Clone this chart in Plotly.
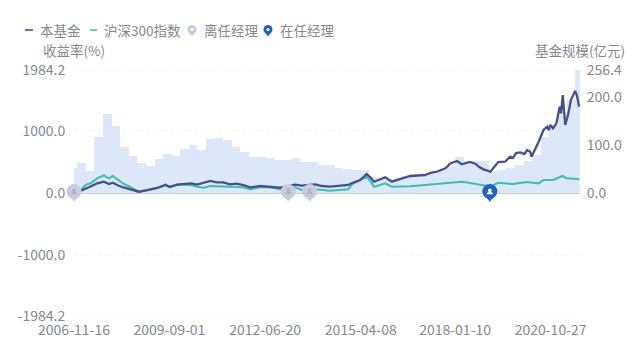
import pandas as pd
import plotly.graph_objects as go

# ---------- data ----------
scale_values = [51.5, 61.9, 45.9, 117.4, 165.3, 139.7, 96.5, 77.1, 63.2, 56.9,
                70.3, 80.7, 77.1, 91.1, 100.0, 89.6, 113.2, 115.3, 109.9, 96.5,
                84.8, 75.7, 74.4, 73.0, 68.2, 68.2, 72.3, 65.2, 64.0, 58.4,
                58.0, 51.5, 51.0, 48.0, 48.0, 33.0, 27.0, 29.0, 31.0, 33.0,
                33.0, 35.0, 40.0, 48.0, 56.0, 75.7, 67.0, 67.0, 67.0, 46.0,
                48.0, 52.0, 58.0, 67.0, 79.0, 117.0, 141.7, 168.9, 194.0, 256.4]
scale_dates = pd.date_range("2006-11-05", periods=len(scale_values), freq="2202h")

line_dates = ["2007-01-28","2007-03-20","2007-05-12","2007-07-22","2007-10-01","2007-11-25",
              "2008-01-05","2008-02-20","2008-05-03","2008-07-12","2008-10-10","2009-01-10",
              "2009-04-25","2009-07-22","2009-09-01","2009-11-25","2010-04-16","2010-06-25",
              "2010-09-05","2010-11-10","2011-01-20","2011-03-30","2011-06-10","2011-08-20",
              "2011-10-30","2012-01-10","2012-04-28","2012-08-12","2012-11-28","2013-05-06",
              "2013-07-16","2013-12-06","2014-02-16","2014-05-16","2014-11-25","2015-01-06",
              "2015-04-01","2015-06-10","2015-07-16","2015-08-28","2015-11-01","2015-12-25","2016-03-05",
              "2016-07-25","2016-09-16","2017-02-25","2017-04-20","2017-06-22","2017-09-28","2017-11-20",
              "2018-02-01","2018-03-22","2018-06-18","2018-08-20","2018-09-25","2018-11-10","2019-01-22","2019-04-16",
              "2019-06-28","2019-08-22","2019-09-20","2019-10-25","2019-12-08","2020-01-20","2020-02-20","2020-03-22","2020-04-06","2020-06-20",
              "2020-08-12","2020-09-20","2020-10-07","2020-10-25","2020-11-22","2020-12-28",
              "2021-02-01","2021-02-16","2021-03-06","2021-04-01","2021-05-05","2021-06-01",
              "2021-07-16","2021-08-03","2021-08-28"]
fund_returns = [37,65,105,156,182,145,166,129,85,60,21,48,81,129,97,134,156,134,166,194,
                173,173,140,150,129,92,113,102,85,134,118,140,113,102,129,161,210,306,258,182,226,
                253,182,250,274,290,323,339,398,476,516,463,500,468,419,382,344,500,505,586,565,645,656,629,694,666,586,823,
                1016,1069,1016,1097,1044,1124,1392,1286,1581,1097,1286,1500,1645,1581,1392]
index_returns = [48,129,156,237,285,237,274,221,145,92,21,48,84,137,102,137,129,102,85,113,
                 113,108,102,97,92,60,92,92,60,92,48,60,48,37,60,145,210,263,198,102,129,
                 156,102,102,108,129,137,145,161,166,177,182,161,145,129,113,105,166,153,145,145,153,161,168,177,169,166,156,
                 210,210,210,210,210,234,258,266,274,247,234,231,229,226,221]

left_ticks = [-1984.2, -1000.0, 0.0, 1000.0, 1984.2]
right_ticks = [0.0, 100.0, 200.0, 256.4]
x_ticks = ["2006-11-16", "2009-09-01", "2012-06-20", "2015-04-08", "2018-01-10", "2020-10-27"]
x_end = "2021-09-06"

former_manager_dates = ["2006-11-16", "2013-02-22", "2013-10-10"]
current_manager_dates = ["2019-01-16"]

names = ["本基金", "沪深300指数", "离任经理", "在任经理"]

# ---------- style ----------
FONT = "Noto Sans CJK SC"
TXT = "#85888f"
BLUE = "#47508f"
GREEN = "#41bdab"
BAR = "#dce7f8"
GREY_PIN = "#c9ccdd"
BLUE_PIN = "#1f62c4"
L, R, T, B = 74, 580, 70, 316
W, H = 640, 356

def px(x):
    return (x - L) / (R - L)

def py(y):
    return (B - y) / (B - T)

fig = go.Figure()
fig.add_trace(go.Bar(x=scale_dates, y=scale_values, width=91.75 * 86400000, marker=dict(color=BAR, line=dict(width=0)),
                     name="基金规模", yaxis="y", showlegend=False))
fig.add_trace(go.Scatter(x=line_dates, y=index_returns, mode="lines", name=names[1], yaxis="y2",
                         line=dict(color=GREEN, width=2.1), showlegend=False))
fig.add_trace(go.Scatter(x=line_dates, y=fund_returns, mode="lines", name=names[0], yaxis="y2",
                         line=dict(color=BLUE, width=2.3), showlegend=False))

def pin(dates, color, glyph, size):
    n = len(dates)
    fig.add_trace(go.Scatter(x=dates, y=[-75] * n, mode="markers", yaxis="y2", cliponaxis=False, showlegend=False,
                             marker=dict(symbol="triangle-down", size=size * 0.55, color=color, line=dict(width=0))))
    fig.add_trace(go.Scatter(x=dates, y=[25] * n, mode="markers", yaxis="y2", cliponaxis=False, showlegend=False,
                             marker=dict(symbol="circle", size=size, color=color, line=dict(width=0))))
    fig.add_trace(go.Scatter(x=dates, y=[45] * n, mode="markers", yaxis="y2", cliponaxis=False, showlegend=False,
                             marker=dict(symbol="circle", size=3.5, color=glyph, line=dict(width=0))))
    fig.add_trace(go.Scatter(x=dates, y=[5] * n, mode="markers", yaxis="y2", cliponaxis=False, showlegend=False,
                             marker=dict(symbol="triangle-up", size=6, color=glyph, line=dict(width=0))))

pin(former_manager_dates, GREY_PIN, "#aeb2c4", 15)
pin(current_manager_dates, BLUE_PIN, "#ffffff", 15)

shapes = []
for v in left_ticks:
    if v != 0:
        shapes.append(dict(type="line", xref="x domain", yref="y2", x0=0, x1=1, y0=v, y1=v, layer="below",
                           line=dict(color="#eeeeee", width=1, dash="dot")))
# legend glyphs
shapes.append(dict(type="line", xref="paper", yref="paper", x0=px(25), x1=px(33), y0=py(30), y1=py(30),
                   line=dict(color=BLUE, width=1.6)))
shapes.append(dict(type="line", xref="paper", yref="paper", x0=px(90), x1=px(97), y0=py(30), y1=py(30),
                   line=dict(color=GREEN, width=1.6)))
for cx, col, inner in [(192, GREY_PIN, "#ffffff"), (268, BLUE_PIN, "#ffffff")]:
    shapes.append(dict(type="circle", xref="paper", yref="paper", x0=px(cx - 4.5), x1=px(cx + 4.5),
                       y0=py(34), y1=py(25), fillcolor=col, line=dict(width=0)))
    shapes.append(dict(type="path", xref="paper", yref="paper",
                       path=f"M {px(cx-3)} {py(32.5)} L {px(cx+3)} {py(32.5)} L {px(cx)} {py(36.5)} Z",
                       fillcolor=col, line=dict(width=0)))
    shapes.append(dict(type="circle", xref="paper", yref="paper", x0=px(cx - 1.5), x1=px(cx + 1.5),
                       y0=py(31), y1=py(28), fillcolor=inner, line=dict(width=0)))

def label(text, x, y, anchor):
    return dict(text=text, x=px(x), y=py(y), xref="paper", yref="paper", xanchor=anchor, yanchor="middle",
                showarrow=False, font=dict(family=FONT, size=13.5, color=TXT))

annotations = [label(names[0], 38, 30, "left"), label(names[1], 102, 30, "left"),
               label(names[2], 202, 30, "left"), label(names[3], 278, 30, "left"),
               label("收益率(%)", 74, 50, "center"), label("基金规模(亿元)", 580, 50, "center")]

fig.update_layout(
    width=W, height=H, autosize=False,
    margin=dict(l=L, r=W - R, t=T, b=H - B, pad=0),
    paper_bgcolor="white", plot_bgcolor="white",
    font=dict(family=FONT, size=14, color=TXT),
    bargap=0, showlegend=False,
    shapes=shapes, annotations=annotations,
    xaxis=dict(type="date", range=[x_ticks[0], x_end], tickmode="array", tickvals=x_ticks,
               tickformat="%Y-%m-%d", showgrid=False, zeroline=False, showline=False, ticks="",
               ticklabelstandoff=4,
               tickfont=dict(family=FONT, size=14, color=TXT), automargin=False),
    yaxis=dict(side="right", range=[-256.4, 256.4], tickmode="array", tickvals=right_ticks,
               ticktext=[f"{v:.1f}" for v in right_ticks], showgrid=False, zeroline=False, showline=False,
               ticks="outside", ticklen=3, tickcolor="rgba(0,0,0,0)",
               tickfont=dict(family=FONT, size=14, color=TXT), automargin=False),
    yaxis2=dict(side="left", overlaying="y", range=[-1984.2, 1984.2], tickmode="array", tickvals=left_ticks,
                ticktext=[f"{v:.1f}" for v in left_ticks], showgrid=False, zeroline=True,
                zerolinecolor="#c6cad6", zerolinewidth=1.5, showline=False,
                ticks="outside", ticklen=5, tickcolor="rgba(0,0,0,0)",
                tickfont=dict(family=FONT, size=14, color=TXT), automargin=False),
)

fig.write_html("out.html", config=dict(displayModeBar=False),
               post_script="document.body.style.margin='0';document.body.style.overflow='hidden';")
